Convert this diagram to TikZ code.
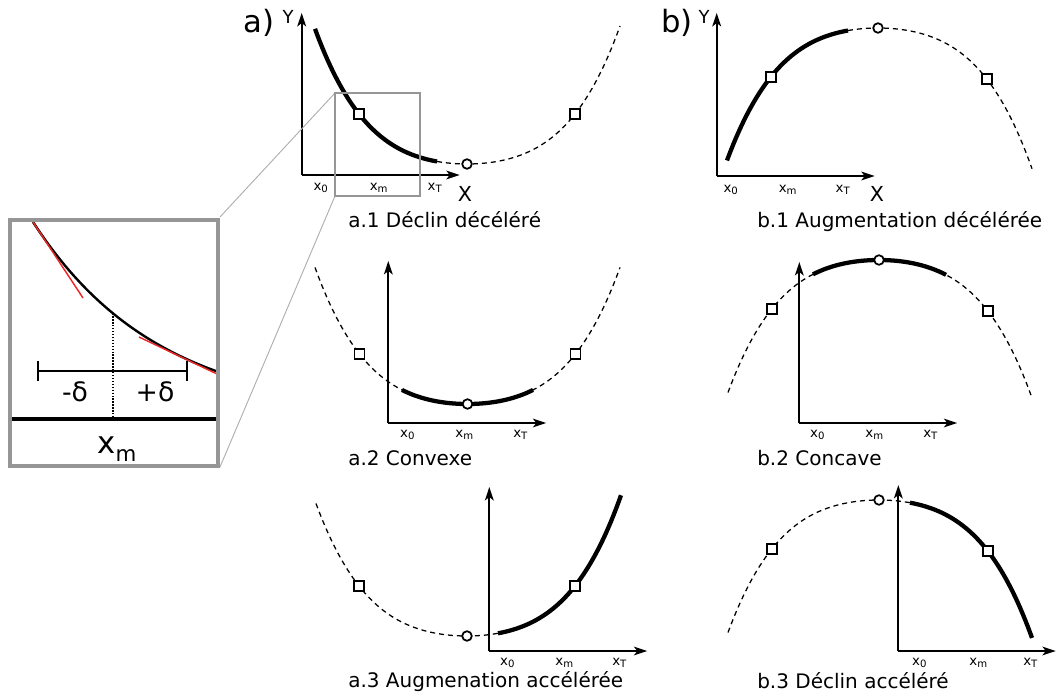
\documentclass[tikz,border=0pt]{standalone}
\usepackage{fontspec}
\setmainfont{DejaVu Sans}
\usetikzlibrary{arrows.meta,calc}
\definecolor{boxgray}{RGB}{150,150,150}
\definecolor{linkgray}{RGB}{175,175,175}
\definecolor{tanred}{RGB}{235,40,40}
\begin{document}
\begin{tikzpicture}[x=0.75pt,y=-0.75pt,
  declare function={fu(\d)=31.4*(\d/108)*(\d/108)+18.6*(\d/108)*(\d/108)*(\d/108)*(\d/108);},
  axis/.style={line width=1.6pt,-{Stealth[length=10pt,width=6.5pt,inset=2.5pt]}},
  solidc/.style={line width=3.2pt},
  dashc/.style={line width=0.95pt,dash pattern=on 3.75pt off 3pt},
  sq/.style={draw,fill=white,line width=1.3pt,minimum size=7.4pt,inner sep=0pt},
  circ/.style={draw,fill=white,circle,line width=1.3pt,minimum size=7.2pt,inner sep=0pt},
  captxt/.style={font=\fontsize{15}{18}\selectfont,anchor=base west,inner sep=0pt},
  ticktxt/.style={font=\fontsize{10}{11}\selectfont,anchor=base,inner sep=0pt},
  bigtxt/.style={font=\fontsize{23}{26}\selectfont,anchor=base,inner sep=0pt},
  xtxt/.style={font=\fontsize{15.5}{18}\selectfont,anchor=base,inner sep=0pt},
  ytxt/.style={font=\fontsize{13.5}{15}\selectfont,anchor=base,inner sep=0pt},
]
\useasboundingbox (0,0) rectangle (1057,699);
\newcommand{\sub}[1]{\raisebox{-2pt}{\fontsize{7.6}{8}\selectfont #1}}

% ---------- panel a.1 ----------
\coordinate (a1o) at (301.7,175);
\draw[axis] (a1o) -- ++(0,-162);
\draw[axis] (a1o) -- ++(158,0);
\draw[dashc] plot[domain=437:620,samples=60] (\x,{164-fu(\x-467)});
\draw[solidc] plot[domain=315:437,samples=60] (\x,{164-fu(\x-467)});
\node[circ] (a1c) at (467,164) {};
\node[sq] (a1l) at (359,{164-fu(-108)}) {};
\node[sq] (a1r) at (575,{164-fu(108)}) {};
\node[ticktxt] (a1t0) at ($(a1o)+(19,15)$) {x\sub{0}};
\node[ticktxt] (a1tm) at ($(a1o)+(77,15)$) {x\sub{m}};
\node[ticktxt] (a1tT) at ($(a1o)+(133,15)$) {x\sub{T}};
\node[xtxt] (a1X) at (465,201) {X};
\node[ytxt] (a1Y) at (288,23.5) {Y};
\node[bigtxt] (alab) at (259,33) {a)};
\node[captxt] (a1cap) at (348,227) {a.1 Déclin décéléré};

% ---------- panel a.2 ----------
\coordinate (a2o) at (388.3,423);
\draw[axis] (a2o) -- ++(0,-162);
\draw[axis] (a2o) -- ++(158,0);
\draw[dashc] plot[domain=315:620,samples=90] (\x,{404-fu(\x-467.5)});
\draw[solidc] plot[domain=402:533,samples=50] (\x,{404-fu(\x-467.5)});
\node[circ] (a2c) at (467.5,404) {};
\node[sq] (a2l) at (359.5,{404-fu(-108)}) {};
\node[sq] (a2r) at (575.5,{404-fu(108)}) {};
\node[ticktxt] (a2t0) at ($(a2o)+(19,14)$) {x\sub{0}};
\node[ticktxt] (a2tm) at ($(a2o)+(76,14)$) {x\sub{m}};
\node[ticktxt] (a2tT) at ($(a2o)+(132,14)$) {x\sub{T}};
\node[captxt] (a2cap) at (348,465) {a.2 Convexe};

% ---------- panel a.3 ----------
\coordinate (a3o) at (489.3,651);
\draw[axis] (a3o) -- ++(0,-164);
\draw[axis] (a3o) -- ++(158,0);
\draw[dashc] plot[domain=316:498,samples=60] (\x,{636-fu(\x-467)});
\draw[solidc] plot[domain=498:621,samples=60] (\x,{636-fu(\x-467)});
\node[circ] (a3c) at (467,636) {};
\node[sq] (a3l) at (359,{636-fu(-108)}) {};
\node[sq] (a3r) at (575,{636-fu(108)}) {};
\node[ticktxt] (a3t0) at ($(a3o)+(18,14)$) {x\sub{0}};
\node[ticktxt] (a3tm) at ($(a3o)+(75,14)$) {x\sub{m}};
\node[ticktxt] (a3tT) at ($(a3o)+(130,14)$) {x\sub{T}};
\node[captxt] (a3cap) at (348,687) {a.3 Augmenation accélérée};

% ---------- panel b.1 ----------
\coordinate (b1o) at (716.7,176);
\draw[axis] (b1o) -- ++(0,-163);
\draw[axis] (b1o) -- ++(158,0);
\draw[dashc] plot[domain=848:1032,samples=60] (\x,{28+fu(\x-878)});
\draw[solidc] plot[domain=727:848,samples=60] (\x,{28+fu(\x-878)});
\node[circ] (b1c) at (878,28) {};
\node[sq] (b1l) at (771,{28+fu(-107)}) {};
\node[sq] (b1r) at (987,{28+fu(109)}) {};
\node[ticktxt] (b1t0) at ($(b1o)+(14,16)$) {x\sub{0}};
\node[ticktxt] (b1tm) at ($(b1o)+(71,16)$) {x\sub{m}};
\node[ticktxt] (b1tT) at ($(b1o)+(126,16)$) {x\sub{T}};
\node[xtxt] (b1X) at (877,201) {X};
\node[ytxt] (b1Y) at (704,23.5) {Y};
\node[bigtxt] (blab) at (677,33) {b)};
\node[captxt] (b1cap) at (757,227) {b.1 Augmentation décélérée};

% ---------- panel b.2 ----------
\coordinate (b2o) at (799.3,423);
\draw[axis] (b2o) -- ++(0,-161);
\draw[axis] (b2o) -- ++(158,0);
\draw[dashc] plot[domain=728:1032,samples=90] (\x,{260+fu(\x-879)});
\draw[solidc] plot[domain=813:946,samples=50] (\x,{260+fu(\x-879)});
\node[circ] (b2c) at (879,260) {};
\node[sq] (b2l) at (772,{260+fu(-107)}) {};
\node[sq] (b2r) at (988,{260+fu(109)}) {};
\node[ticktxt] (b2t0) at ($(b2o)+(18,14)$) {x\sub{0}};
\node[ticktxt] (b2tm) at ($(b2o)+(75,14)$) {x\sub{m}};
\node[ticktxt] (b2tT) at ($(b2o)+(131,14)$) {x\sub{T}};
\node[captxt] (b2cap) at (757,465) {b.2 Concave};

% ---------- panel b.3 ----------
\coordinate (b3o) at (898.3,651);
\draw[axis] (b3o) -- ++(0,-166);
\draw[axis] (b3o) -- ++(157.5,0);
\draw[dashc] plot[domain=728:910,samples=60] (\x,{500+fu(\x-879)});
\draw[solidc] plot[domain=910:1032,samples=60] (\x,{500+fu(\x-879)});
\node[circ] (b3c) at (879,500) {};
\node[sq] (b3l) at (772,{500+fu(-107)}) {};
\node[sq] (b3r) at (988,{500+fu(109)}) {};
\node[ticktxt] (b3t0) at ($(b3o)+(21,14)$) {x\sub{0}};
\node[ticktxt] (b3tm) at ($(b3o)+(80,14)$) {x\sub{m}};
\node[ticktxt] (b3tT) at ($(b3o)+(132,14)$) {x\sub{T}};
\node[captxt] (b3cap) at (757,688) {b.3 Déclin accéléré};

% ---------- zoom box and inset ----------
\coordinate (zb1) at (335,93);
\coordinate (zb2) at (335,196);
\coordinate (ib1) at (220,217);
\coordinate (ib2) at (220,467);
\draw[linkgray,line width=0.7pt] (ib1) -- (zb1);
\draw[linkgray,line width=0.7pt] (ib2) -- (zb2);
\draw[boxgray,line width=1.3pt] (335,93) rectangle (420,196);

\begin{scope}
\clip (10,220) rectangle (218,466);
\draw[line width=1.8pt] plot[domain=33:216,samples=60] (\x,{222+195*(1-exp(-0.0079*(\x-33)))});
\draw[tanred,line width=1.1pt] (33,222) -- (83,298);
\draw[tanred,line width=1.1pt] (139,337) -- (216,373.5);
\end{scope}
\coordinate (cm) at (113,{222+195*(1-exp(-0.0079*80))});
\coordinate (bm) at (113,419);
\draw[line width=1pt,dash pattern=on 1pt off 1.2pt] (cm) -- (bm);
\draw[line width=1.1pt] (38,371) -- (187,371);
\draw[line width=1.1pt] (38,361) -- (38,381);
\draw[line width=1.1pt] (187,361) -- (187,381);
\node[font=\fontsize{20}{24}\selectfont,anchor=base,inner sep=0pt] (md) at (75,401) {-δ};
\node[font=\fontsize{20}{24}\selectfont,anchor=base,inner sep=0pt] (pd) at (155,401) {+δ};
\draw[line width=3pt] (11,419) -- (217,419);
\node[anchor=base,inner sep=0pt,font=\fontsize{23}{28}\selectfont] (xm) at (117,453) {x\raisebox{-6pt}{\fontsize{16}{20}\selectfont m}};
\draw[boxgray,line width=3pt] (10,220) rectangle (218,466);
\end{tikzpicture}
\end{document}
